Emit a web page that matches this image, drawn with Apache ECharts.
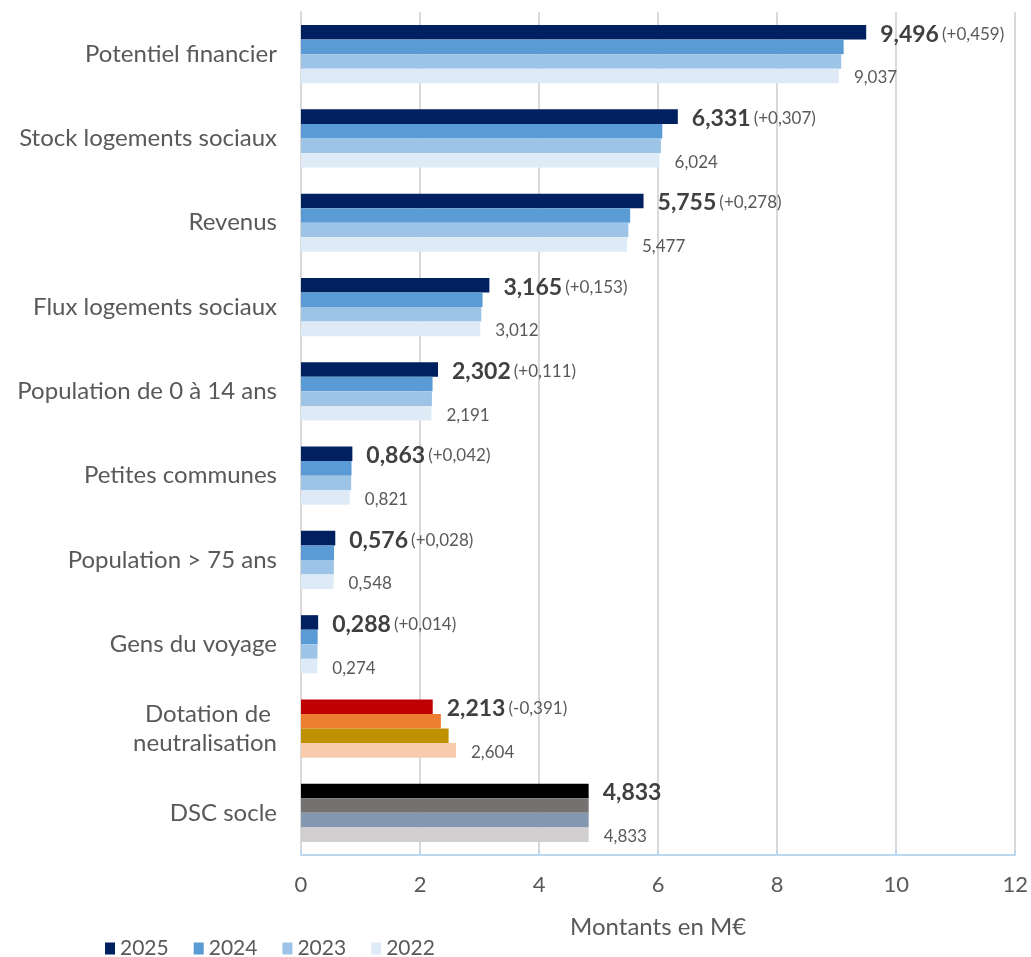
<!DOCTYPE html>
<html><head><meta charset="utf-8">
<script src="https://cdn.jsdelivr.net/npm/echarts@6/dist/echarts.min.js"></script>
<style>html,body{margin:0;padding:0;background:#fff}#c{width:1031px;height:957px}</style>
</head><body><div id="c"></div>
<script>
const categories = ['Potentiel financier','Stock logements sociaux','Revenus','Flux logements sociaux','Population de 0 à 14 ans','Petites communes','Population > 75 ans','Gens du voyage','Dotation de \nneutralisation','DSC socle'];
const years = ['2025','2024','2023','2022'];
const v2025 = [9.496, 6.331, 5.755, 3.165, 2.302, 0.863, 0.576, 0.288, 2.213, 4.833];
const v2024 = [9.117, 6.070, 5.530, 3.050, 2.210, 0.849, 0.555, 0.280, 2.350, 4.833];
const v2023 = [9.076, 6.047, 5.500, 3.030, 2.200, 0.843, 0.552, 0.277, 2.480, 4.833];
const v2022 = [9.037, 6.024, 5.477, 3.012, 2.191, 0.821, 0.548, 0.274, 2.604, 4.833];
const xTicks = [0, 2, 4, 6, 8, 10, 12];

const seriesValues = [v2025, v2024, v2023, v2022];
const baseColors = ['#002060', '#5B9BD5', '#9DC3E6', '#DEEBF7'];
const specialColors = {
  'Dotation de \nneutralisation': ['#C00000', '#ED7D31', '#BF9000', '#F8CBAD'],
  'DSC socle': ['#000000', '#767171', '#8497B0', '#D0CECE']
};
const fmt = v => v.toFixed(3).replace('.', ',');
const FONT = 'Lato';

const series = years.map((y, si) => ({
  name: y,
  type: 'bar',
  barGap: '0%',
  barCategoryGap: '31%',
  itemStyle: { color: baseColors[si] },
  data: seriesValues[si].map((v, i) => {
    const sc = specialColors[categories[i]];
    return sc ? { value: v, itemStyle: { color: sc[si] } } : v;
  }),
  label: si === 0 ? {
    show: true, position: 'right', distance: 14, offset: [0, 2],
    formatter: p => {
      const i = p.dataIndex;
      const d = v2025[i] - v2022[i];
      if (Math.abs(d) < 0.0005) return '{b|' + fmt(v2025[i]) + '}';
      const s = (d > 0 ? '+' : '-') + fmt(Math.abs(d));
      return '{b|' + fmt(v2025[i]) + '} {s|(' + s + ')}';
    },
    rich: {
      b: { fontFamily: FONT, fontWeight: 'bold', fontSize: 23, color: '#404040' },
      s: { fontFamily: FONT, fontSize: 17, color: '#595959' }
    }
  } : si === 3 ? {
    show: true, position: 'right', distance: 15,
    fontFamily: FONT, fontSize: 17, color: '#595959', offset: [0, 2],
    formatter: p => fmt(p.value)
  } : { show: false }
}));

const chart = echarts.init(document.getElementById('c'));
chart.setOption({
  animation: false,
  textStyle: { fontFamily: FONT },
  grid: { left: 301, right: 13, top: 12, bottom: 102, containLabel: false },
  legend: {
    data: years, left: 100, bottom: -7, itemWidth: 10, itemHeight: 12, itemGap: 25,
    icon: 'rect',
    textStyle: { fontFamily: FONT, fontSize: 21, color: '#595959' }
  },
  xAxis: {
    type: 'value', min: xTicks[0], max: xTicks[xTicks.length - 1], interval: 2,
    name: 'Montants en M€', nameLocation: 'middle', nameGap: 60,
    nameTextStyle: { fontFamily: FONT, fontSize: 24, color: '#595959' },
    axisLine: { show: true, lineStyle: { color: '#BDD7EE', width: 2 } },
    axisTick: { show: true, inside: true, length: 5, lineStyle: { color: '#BDD7EE', width: 2 } },
    axisLabel: { fontFamily: FONT, fontSize: 22, color: '#595959', margin: 19 },
    splitLine: { show: true, lineStyle: { color: '#D9D9D9', width: 2 } }
  },
  yAxis: {
    type: 'category', data: categories, inverse: true,
    axisLine: { show: true, lineStyle: { color: '#D9D9D9', width: 2 } },
    axisTick: { show: false },
    axisLabel: { fontFamily: FONT, fontSize: 24, color: '#595959', margin: 24, lineHeight: 29 }
  },
  series: series
});
</script>
</body></html>
